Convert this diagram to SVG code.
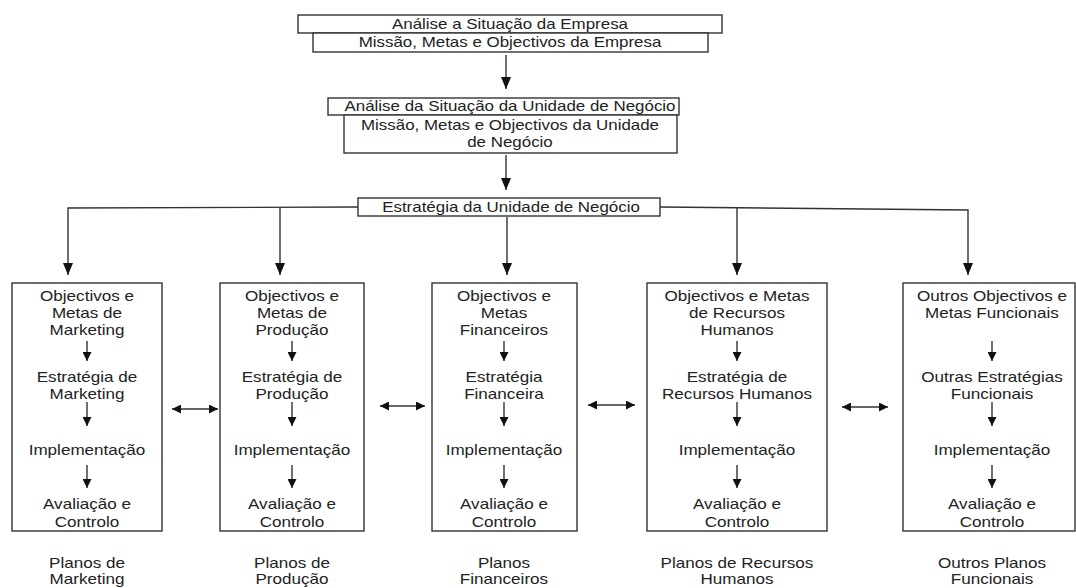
<svg xmlns="http://www.w3.org/2000/svg" width="1076" height="588" viewBox="0 0 1076 588">
<defs>
<style>
text{font-family:"Liberation Sans",Arial,sans-serif;font-size:14px;fill:#222;text-anchor:middle}
.box{fill:#fff;stroke:#333;stroke-width:1.4}
.ln{stroke:#333;stroke-width:1.4;fill:none}
</style>
<marker id="ah" viewBox="0 0 12 10" refX="12" refY="5" markerWidth="12" markerHeight="10" markerUnits="userSpaceOnUse" orient="auto-start-reverse"><path d="M0,0 L12,5 L0,10 Z" fill="#111"/></marker>
<marker id="as" viewBox="0 0 9 9" refX="9" refY="4.5" markerWidth="9" markerHeight="9" markerUnits="userSpaceOnUse" orient="auto-start-reverse"><path d="M0,0 L9,4.5 L0,9 Z" fill="#111"/></marker>
</defs>

<g id="connectors">
<line class="ln" x1="506" y1="55" x2="506" y2="89" marker-end="url(#ah)"/>
<line class="ln" x1="506" y1="155" x2="506" y2="190" marker-end="url(#ah)"/>
<polyline class="ln" points="358,207 68,208 68,275" marker-end="url(#ah)"/>
<line class="ln" x1="280" y1="207.5" x2="280" y2="275" marker-end="url(#ah)"/>
<line class="ln" x1="507" y1="217" x2="507" y2="275" marker-end="url(#ah)"/>
<polyline class="ln" points="660,207 968,210 968,275" marker-end="url(#ah)"/>
<line class="ln" x1="737" y1="208" x2="737" y2="275" marker-end="url(#ah)"/>
<line class="ln" x1="172" y1="409" x2="218" y2="409" marker-start="url(#as)" marker-end="url(#as)"/>
<line class="ln" x1="380" y1="406" x2="425" y2="406" marker-start="url(#as)" marker-end="url(#as)"/>
<line class="ln" x1="588" y1="405" x2="635" y2="405" marker-start="url(#as)" marker-end="url(#as)"/>
<line class="ln" x1="842" y1="407" x2="888" y2="407" marker-start="url(#as)" marker-end="url(#as)"/>
</g>

<g id="empresa">
<rect class="box" x="298" y="15" width="424" height="18"/>
<text transform="translate(510 29) scale(1.21 1)">Análise a Situação da Empresa</text>
<rect class="box" x="313" y="33" width="395" height="19"/>
<text transform="translate(510 47) scale(1.21 1)">Missão, Metas e Objectivos da Empresa</text>
</g>

<g id="unidade">
<rect class="box" x="328" y="98" width="351" height="17"/>
<text transform="translate(510 111) scale(1.21 1)">Análise da Situação da Unidade de Negócio</text>
<rect class="box" x="344" y="115" width="333" height="38"/>
<text transform="translate(510 130) scale(1.21 1)">Missão, Metas e Objectivos da Unidade</text>
<text transform="translate(510 147) scale(1.21 1)">de Negócio</text>
</g>

<g id="estrategia">
<rect class="box" x="358" y="198" width="302" height="18"/>
<text transform="translate(511 212) scale(1.21 1)">Estratégia da Unidade de Negócio</text>
</g>

<g id="marketing">
<rect class="box" x="12" y="283" width="150" height="248"/>
<text transform="translate(87 301) scale(1.22 1)">Objectivos e</text>
<text transform="translate(87 318) scale(1.22 1)">Metas de</text>
<text transform="translate(87 335) scale(1.22 1)">Marketing</text>
<line class="ln" x1="87" y1="341" x2="87" y2="361" marker-end="url(#as)"/>
<text transform="translate(87 382) scale(1.22 1)">Estratégia de</text>
<text transform="translate(87 399) scale(1.22 1)">Marketing</text>
<line class="ln" x1="87" y1="402" x2="87" y2="426" marker-end="url(#as)"/>
<text transform="translate(87 455) scale(1.22 1)">Implementação</text>
<line class="ln" x1="87" y1="465" x2="87" y2="488" marker-end="url(#as)"/>
<text transform="translate(87 509) scale(1.22 1)">Avaliação e</text>
<text transform="translate(87 527) scale(1.22 1)">Controlo</text>
<text transform="translate(87 568) scale(1.22 1)">Planos de</text>
<text transform="translate(87 584) scale(1.22 1)">Marketing</text>
</g>

<g id="producao">
<rect class="box" x="220" y="283" width="144" height="248"/>
<text transform="translate(292 301) scale(1.22 1)">Objectivos e</text>
<text transform="translate(292 318) scale(1.22 1)">Metas de</text>
<text transform="translate(292 335) scale(1.22 1)">Produção</text>
<line class="ln" x1="292" y1="341" x2="292" y2="361" marker-end="url(#as)"/>
<text transform="translate(292 382) scale(1.22 1)">Estratégia de</text>
<text transform="translate(292 399) scale(1.22 1)">Produção</text>
<line class="ln" x1="292" y1="402" x2="292" y2="426" marker-end="url(#as)"/>
<text transform="translate(292 455) scale(1.22 1)">Implementação</text>
<line class="ln" x1="292" y1="465" x2="292" y2="488" marker-end="url(#as)"/>
<text transform="translate(292 509) scale(1.22 1)">Avaliação e</text>
<text transform="translate(292 527) scale(1.22 1)">Controlo</text>
<text transform="translate(292 568) scale(1.22 1)">Planos de</text>
<text transform="translate(292 584) scale(1.22 1)">Produção</text>
</g>

<g id="financeiros">
<rect class="box" x="432" y="283" width="145" height="248"/>
<text transform="translate(504 301) scale(1.22 1)">Objectivos e</text>
<text transform="translate(504 318) scale(1.22 1)">Metas</text>
<text transform="translate(504 335) scale(1.22 1)">Financeiros</text>
<line class="ln" x1="504" y1="341" x2="504" y2="361" marker-end="url(#as)"/>
<text transform="translate(504 382) scale(1.22 1)">Estratégia</text>
<text transform="translate(504 399) scale(1.22 1)">Financeira</text>
<line class="ln" x1="504" y1="402" x2="504" y2="426" marker-end="url(#as)"/>
<text transform="translate(504 455) scale(1.22 1)">Implementação</text>
<line class="ln" x1="504" y1="465" x2="504" y2="488" marker-end="url(#as)"/>
<text transform="translate(504 509) scale(1.22 1)">Avaliação e</text>
<text transform="translate(504 527) scale(1.22 1)">Controlo</text>
<text transform="translate(504 568) scale(1.22 1)">Planos</text>
<text transform="translate(504 584) scale(1.22 1)">Financeiros</text>
</g>

<g id="recursos">
<rect class="box" x="647" y="283" width="180" height="248"/>
<text transform="translate(737 301) scale(1.22 1)">Objectivos e Metas</text>
<text transform="translate(737 318) scale(1.22 1)">de Recursos</text>
<text transform="translate(737 335) scale(1.22 1)">Humanos</text>
<line class="ln" x1="737" y1="341" x2="737" y2="361" marker-end="url(#as)"/>
<text transform="translate(737 382) scale(1.22 1)">Estratégia de</text>
<text transform="translate(737 399) scale(1.22 1)">Recursos Humanos</text>
<line class="ln" x1="737" y1="402" x2="737" y2="426" marker-end="url(#as)"/>
<text transform="translate(737 455) scale(1.22 1)">Implementação</text>
<line class="ln" x1="737" y1="465" x2="737" y2="488" marker-end="url(#as)"/>
<text transform="translate(737 509) scale(1.22 1)">Avaliação e</text>
<text transform="translate(737 527) scale(1.22 1)">Controlo</text>
<text transform="translate(737 568) scale(1.22 1)">Planos de Recursos</text>
<text transform="translate(737 584) scale(1.22 1)">Humanos</text>
</g>

<g id="outros">
<rect class="box" x="903" y="283" width="172" height="248"/>
<text transform="translate(992 301) scale(1.22 1)">Outros Objectivos e</text>
<text transform="translate(992 318) scale(1.22 1)">Metas Funcionais</text>
<line class="ln" x1="992" y1="341" x2="992" y2="361" marker-end="url(#as)"/>
<text transform="translate(992 382) scale(1.22 1)">Outras Estratégias</text>
<text transform="translate(992 399) scale(1.22 1)">Funcionais</text>
<line class="ln" x1="992" y1="402" x2="992" y2="426" marker-end="url(#as)"/>
<text transform="translate(992 455) scale(1.22 1)">Implementação</text>
<line class="ln" x1="992" y1="465" x2="992" y2="488" marker-end="url(#as)"/>
<text transform="translate(992 509) scale(1.22 1)">Avaliação e</text>
<text transform="translate(992 527) scale(1.22 1)">Controlo</text>
<text transform="translate(992 568) scale(1.22 1)">Outros Planos</text>
<text transform="translate(992 584) scale(1.22 1)">Funcionais</text>
</g>
</svg>
